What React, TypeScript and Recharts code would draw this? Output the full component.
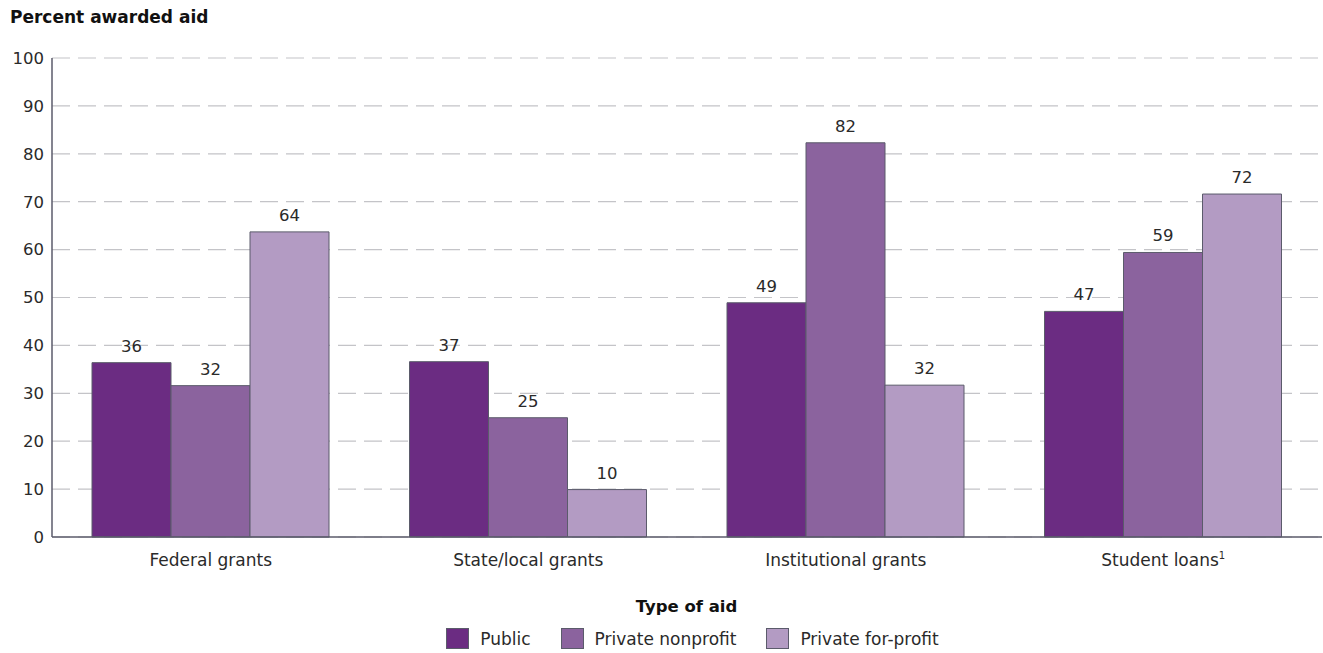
import React from "react";
import { BarChart, Bar, XAxis, YAxis, CartesianGrid, LabelList } from "recharts";

const categories = ["Federal grants", "State/local grants", "Institutional grants", "Student loans"];
const publicValues = [36.4, 36.6, 48.9, 47.1];
const nonprofitValues = [31.6, 24.9, 82.3, 59.4];
const forprofitValues = [63.7, 9.9, 31.7, 71.6];
const yTicks = [0, 10, 20, 30, 40, 50, 60, 70, 80, 90, 100];

const seriesNames = ["Public", "Private nonprofit", "Private for-profit"];
const seriesColors = ["#6b2c82", "#8b639e", "#b39bc3"];

const data = categories.map((c, i) => ({
  category: c,
  pub: publicValues[i],
  nonprofit: nonprofitValues[i],
  forprofit: forprofitValues[i],
}));

const FONT = "'DejaVu Sans', sans-serif";
const STROKE = "#5b5b6b";
const TEXT = "#2a2a2a";

const XTick = (props: any) => {
  const { x, y, payload } = props;
  const isLoans = payload.value === "Student loans";
  return (
    <text x={x} y={y} dy={21} textAnchor="middle" fill={TEXT} fontSize={17} fontFamily={FONT}>
      {isLoans ? (
        <>
          {"Student loans"}
          <tspan fontSize={10} dy={-7}>1</tspan>
        </>
      ) : (
        payload.value
      )}
    </text>
  );
};

const fmt = (v: any) => Math.round(Number(v));

export default function App() {
  return (
    <div style={{ position: "absolute", left: 0, top: 0, width: 1323, height: 653, background: "#fff" }}>
      <div
        style={{
          position: "absolute",
          left: 10,
          top: 7,
          fontFamily: FONT,
          fontWeight: "bold",
          fontSize: 17,
          color: "#111",
        }}
      >
        Percent awarded aid
      </div>
      <BarChart
        width={1323}
        height={653}
        data={data}
        margin={{ top: 58, right: 1, left: 0, bottom: 116 - 30 }}
        barCategoryGap="12.6%"
        barGap={0}
      >
        <CartesianGrid vertical={false} stroke="#c4c4c8" strokeWidth={1.2} strokeDasharray="18 8" />
        <XAxis
          dataKey="category"
          tickLine={false}
          axisLine={{ stroke: STROKE, strokeWidth: 1.5 }}
          tick={<XTick />}
          height={30}
          interval={0}
        />
        <YAxis
          domain={[0, 100]}
          ticks={yTicks}
          width={52}
          tickLine={false}
          axisLine={{ stroke: STROKE, strokeWidth: 1.5 }}
          tick={{ fill: TEXT, fontSize: 16.5, fontFamily: FONT }}
          interval={0}
        />
        <Bar dataKey="pub" name={seriesNames[0]} fill={seriesColors[0]} stroke={STROKE} strokeWidth={1} isAnimationActive={false}>
          <LabelList dataKey="pub" position="top" offset={11} formatter={fmt} fill={TEXT} fontSize={16.5} fontFamily={FONT} />
        </Bar>
        <Bar dataKey="nonprofit" name={seriesNames[1]} fill={seriesColors[1]} stroke={STROKE} strokeWidth={1} isAnimationActive={false}>
          <LabelList dataKey="nonprofit" position="top" offset={11} formatter={fmt} fill={TEXT} fontSize={16.5} fontFamily={FONT} />
        </Bar>
        <Bar dataKey="forprofit" name={seriesNames[2]} fill={seriesColors[2]} stroke={STROKE} strokeWidth={1} isAnimationActive={false}>
          <LabelList dataKey="forprofit" position="top" offset={11} formatter={fmt} fill={TEXT} fontSize={16.5} fontFamily={FONT} />
        </Bar>
      </BarChart>
      <div
        style={{
          position: "absolute",
          top: 597,
          left: 0,
          width: 1323,
          fontFamily: FONT,
          color: TEXT,
          textAlign: "center",
        }}
      >
        <div style={{ fontWeight: "bold", fontSize: 16.5, paddingLeft: 50, color: "#111" }}>Type of aid</div>
        <div style={{ display: "flex", justifyContent: "center", alignItems: "center", gap: 30, marginTop: 12, paddingLeft: 62 }}>
          {seriesNames.map((n, i) => (
            <div key={n} style={{ display: "flex", alignItems: "center" }}>
              <span
                style={{
                  display: "inline-block",
                  width: 23,
                  height: 21,
                  background: seriesColors[i],
                  border: `1.5px solid ${STROKE}`,
                  boxSizing: "border-box",
                  marginRight: 11,
                }}
              />
              <span style={{ fontSize: 17 }}>{n}</span>
            </div>
          ))}
        </div>
      </div>
    </div>
  );
}
